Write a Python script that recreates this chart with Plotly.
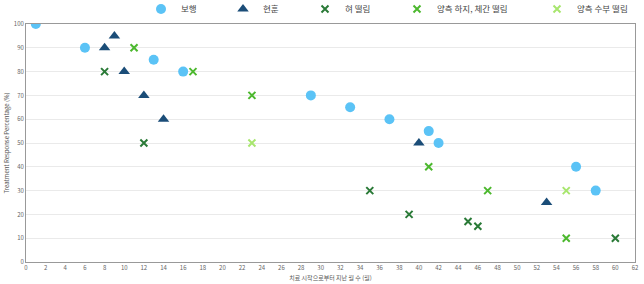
import plotly.graph_objects as go

walk_x = [1, 6, 13, 16, 29, 33, 37, 41, 42, 56, 58]
walk_y = [100, 90, 85, 80, 70, 65, 60, 55, 50, 40, 30]
vert_x = [8, 9, 10, 12, 14, 40, 53]
vert_y = [90, 95, 80, 70, 60, 50, 25]
tongue_x = [8, 12, 35, 39, 45, 46, 60]
tongue_y = [80, 50, 30, 20, 17, 15, 10]
legs_x = [11, 17, 23, 41, 47, 55]
legs_y = [90, 80, 70, 40, 30, 10]
hands_x = [23, 55]
hands_y = [50, 30]

names = ["보행", "현훈", "혀 떨림", "양측 하지, 체간 떨림", "양측 수부 떨림"]
legend_ids = ["legend", "legend2", "legend3", "legend4", "legend5"]
# text start pixel of each legend entry in the reference
text_px = [181, 263, 345, 437, 577]

L, R, T, B = 26, 9, 24, 22
W, H = 644, 284
pw = W - L - R
ph = H - T - B

fig = go.Figure()
specs = [
    (walk_x, walk_y, dict(symbol="circle", size=10, color="#5BC3F6")),
    (vert_x, vert_y, dict(symbol="triangle-up", size=10, color="#1B4D78")),
    (tongue_x, tongue_y, dict(symbol="x-thin", size=7, color="#2A7A37",
                              line=dict(width=2, color="#2A7A37"))),
    (legs_x, legs_y, dict(symbol="x-thin", size=7, color="#4CB82E",
                          line=dict(width=2, color="#4CB82E"))),
    (hands_x, hands_y, dict(symbol="x-thin", size=7, color="#A8E66E",
                            line=dict(width=2, color="#A8E66E"))),
]
for (xs, ys, mk), nm, lid in zip(specs, names, legend_ids):
    fig.add_trace(go.Scatter(x=xs, y=ys, mode="markers", name=nm, marker=mk, legend=lid))

layout = dict(
    width=W, height=H,
    margin=dict(l=L, r=R, t=T, b=B, autoexpand=False),
    paper_bgcolor="white", plot_bgcolor="white",
    font=dict(family="Noto Sans CJK KR, Noto Sans, sans-serif", size=7, color="#555"),
    showlegend=True,
)
for lid, tp in zip(legend_ids, text_px):
    layout[lid] = dict(orientation="h", x=(tp - 40 - L) / pw, xanchor="left",
                       y=1 + (T - 9) / ph, yanchor="middle",
                       font=dict(size=8.5, color="#444"), bgcolor="rgba(0,0,0,0)")
fig.update_layout(**layout)

fig.update_xaxes(range=[0, 62], dtick=2, tick0=0, showgrid=False,
                 showline=True, linecolor="#999", linewidth=1, mirror=True,
                 ticks="", tickfont=dict(size=6, color="#666"),
                 title=dict(text="치료 시작으로부터 지난 월 수 (월)", font=dict(size=6, color="#555"),
                            standoff=4), zeroline=False)
fig.update_yaxes(range=[0, 100], dtick=10, showgrid=True, gridcolor="#eaeaea",
                 showline=True, linecolor="#999", linewidth=1, mirror=True,
                 ticks="", tickfont=dict(size=6, color="#666"),
                 title=dict(text="Treatment Response Percentage (%)", font=dict(size=6, color="#555"),
                            standoff=3), zeroline=False)

fig.write_html("out.html")
